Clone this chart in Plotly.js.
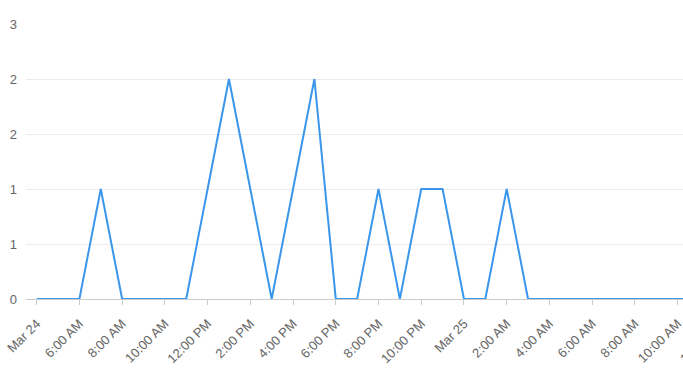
<!DOCTYPE html>
<html>
<head>
<meta charset="utf-8">
<script src="https://cdn.plot.ly/plotly-3.0.1.min.js"></script>
<style>
html,body{margin:0;padding:0;overflow:hidden;background:#fff;width:683px;height:371px;}
#chart{width:741px;height:371px;}
</style>
</head>
<body>
<div id="chart"></div>
<script>
// Hourly timestamps and counts
const times = [
  "2024-03-24 04:00","2024-03-24 05:00","2024-03-24 06:00","2024-03-24 07:00",
  "2024-03-24 08:00","2024-03-24 09:00","2024-03-24 10:00","2024-03-24 11:00",
  "2024-03-24 12:00","2024-03-24 13:00","2024-03-24 14:00","2024-03-24 15:00",
  "2024-03-24 16:00","2024-03-24 17:00","2024-03-24 18:00","2024-03-24 19:00",
  "2024-03-24 20:00","2024-03-24 21:00","2024-03-24 22:00","2024-03-24 23:00",
  "2024-03-25 00:00","2024-03-25 01:00","2024-03-25 02:00","2024-03-25 03:00",
  "2024-03-25 04:00","2024-03-25 05:00","2024-03-25 06:00","2024-03-25 07:00",
  "2024-03-25 08:00","2024-03-25 09:00","2024-03-25 10:00","2024-03-25 11:00",
  "2024-03-25 12:00"
];
const counts = [
  0,0,0,1,
  0,0,0,0,
  1,2,1,0,
  1,2,0,0,
  1,0,1,1,
  0,0,1,0,
  0,0,0,0,
  0,0,0,0,
  0
];
const xTickVals = [
  "2024-03-24 04:00","2024-03-24 06:00","2024-03-24 08:00","2024-03-24 10:00",
  "2024-03-24 12:00","2024-03-24 14:00","2024-03-24 16:00","2024-03-24 18:00",
  "2024-03-24 20:00","2024-03-24 22:00","2024-03-25 00:00","2024-03-25 02:00",
  "2024-03-25 04:00","2024-03-25 06:00","2024-03-25 08:00","2024-03-25 10:00",
  "2024-03-25 12:00"
];
const xTickText = [
  "Mar 24","6:00 AM","8:00 AM","10:00 AM","12:00 PM","2:00 PM","4:00 PM","6:00 PM",
  "8:00 PM","10:00 PM","Mar 25","2:00 AM","4:00 AM","6:00 AM","8:00 AM","10:00 AM","12:00 PM"
];
const yTickVals = [0,0.5,1,1.5,2,2.5];
const yTickText = ["0","1","1","2","2","3"];

const trace = {
  x: times, y: counts, type: "scatter", mode: "lines",
  line: {color: "#3a96eb", width: 2},
  hoverinfo: "skip"
};
const layout = {
  width: 741, height: 371,
  margin: {l: 26, r: 10, t: 24, b: 72},
  paper_bgcolor: "#fff", plot_bgcolor: "#fff",
  showlegend: false,
  font: {family: "Liberation Sans, Arial, sans-serif", size: 13, color: "#666"},
  xaxis: {
    type: "date",
    range: ["2024-03-24 03:30", "2024-03-25 12:30"],
    tickmode: "array", tickvals: xTickVals, ticktext: xTickText,
    tickangle: -45,
    showgrid: false, zeroline: false,
    showline: true, linecolor: "#ccc", linewidth: 1,
    ticks: "outside", ticklen: 5, tickcolor: "#ccc", tickwidth: 1,
    ticklabelstandoff: 6,
    tickfont: {size: 13, color: "#666"}
  },
  yaxis: {
    range: [0, 2.5],
    tickmode: "array", tickvals: yTickVals, ticktext: yTickText,
    showgrid: true, gridcolor: "#ececec", gridwidth: 1,
    zeroline: false, showline: false, ticks: "",
    ticklabelstandoff: 8,
    tickfont: {size: 13, color: "#666"}
  }
};
Plotly.newPlot("chart", [trace], layout, {displayModeBar: false, staticPlot: true});
</script>
</body>
</html>
